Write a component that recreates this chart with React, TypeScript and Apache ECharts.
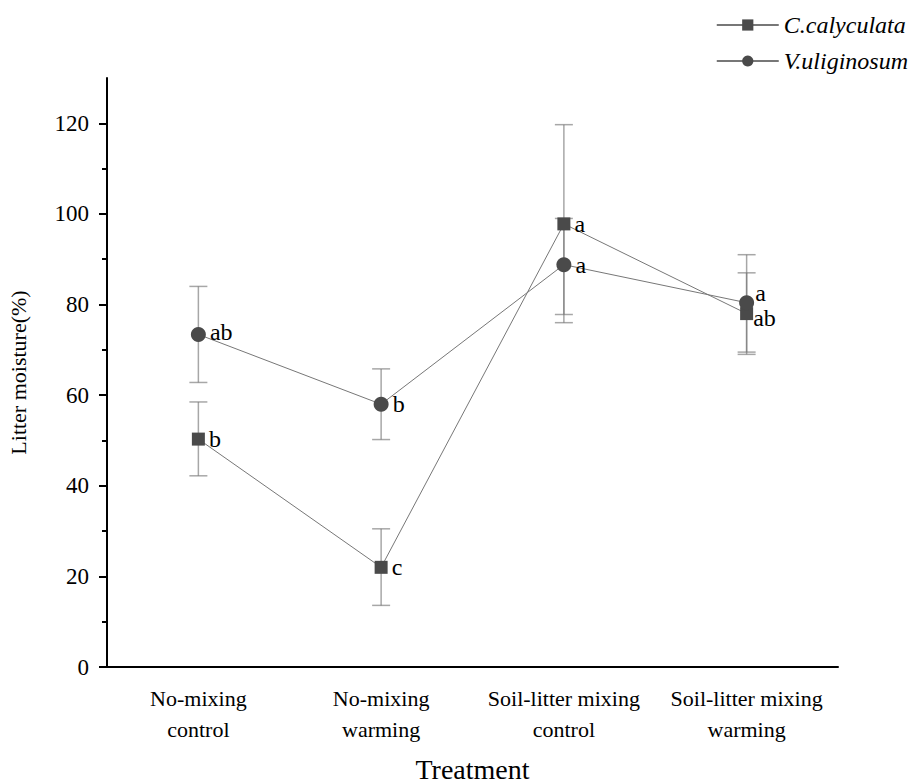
import React, { useEffect, useRef } from "react";
import * as echarts from "echarts";

const categories = ["No-mixing\ncontrol", "No-mixing\nwarming", "Soil-litter mixing\ncontrol", "Soil-litter mixing\nwarming"];
const cMean = [50.3, 22.0, 97.8, 78.0];
const cLow = [42.2, 13.6, 76.0, 69.0];
const cHigh = [58.5, 30.5, 119.7, 87.0];
const cLetters = ["b", "c", "a", "ab"];
const vMean = [73.4, 58.0, 88.8, 80.4];
const vLow = [62.8, 50.2, 77.8, 69.5];
const vHigh = [84.0, 65.8, 99.0, 91.0];
const vLetters = ["ab", "b", "a", "a"];
const majorTicks = [0, 20, 40, 60, 80, 100, 120];
const minorTicks = [10, 30, 50, 70, 90, 110];

const FONT = "'Liberation Serif', 'Times New Roman', serif";

function errorSeries(name: string, low: number[], high: number[]) {
  return {
    type: "custom",
    name: name + "-err",
    z: 1,
    silent: true,
    data: low.map((l, i) => [i, l, high[i]]),
    renderItem: (params: any, api: any) => {
      const x = api.value(0);
      const lo = api.coord([x, api.value(1)]);
      const hi = api.coord([x, api.value(2)]);
      const hw = 9;
      const style = { stroke: "rgba(120,120,120,0.65)", lineWidth: 1.5 };
      return {
        type: "group",
        children: [
          { type: "line", shape: { x1: lo[0], y1: lo[1], x2: hi[0], y2: hi[1] }, style },
          { type: "line", shape: { x1: lo[0] - hw, y1: lo[1], x2: lo[0] + hw, y2: lo[1] }, style },
          { type: "line", shape: { x1: hi[0] - hw, y1: hi[1], x2: hi[0] + hw, y2: hi[1] }, style },
        ],
      };
    },
  };
}

const cOffsets: number[][] = [[0, 0], [0, 0], [0, 0], [-4, 4]];
const vOffsets: number[][] = [[0, -2], [0, 0], [0, 0], [-3, -10]];

function lineData(mean: number[], letters: string[], offsets: number[][]) {
  return mean.map((m, i) => ({
    value: m,
    label: {
      show: true,
      position: "right",
      distance: 4,
      formatter: letters[i],
      offset: offsets[i],
      color: "#000",
      fontFamily: FONT,
      fontSize: 24,
    },
  }));
}

export default function App() {
  const ref = useRef<HTMLDivElement>(null);
  useEffect(() => {
    const chart = echarts.init(ref.current!, undefined, { renderer: "svg" });
    chart.setOption({
      animation: false,
      backgroundColor: "#fff",
      textStyle: { fontFamily: FONT },
      legend: {
        orient: "vertical",
        right: 2,
        top: 8,
        itemWidth: 62,
        itemHeight: 14,
        itemGap: 12,
        data: ["C.calyculata", "V.uliginosum"],
        textStyle: { fontFamily: FONT, fontStyle: "italic", fontSize: 24, color: "#000" },
      },
      grid: { left: 107, right: 77, top: 78, bottom: 116, containLabel: false, outerBoundsMode: "none" },
      xAxis: {
        type: "category",
        data: categories,
        boundaryGap: true,
        name: "Treatment",
        nameLocation: "middle",
        nameGap: 88,
        nameTextStyle: { fontFamily: FONT, fontSize: 28, color: "#000" },
        axisLine: { lineStyle: { color: "#000", width: 2 } },
        axisTick: { alignWithLabel: true, length: 8, lineStyle: { color: "#000", width: 2 } },
        axisLabel: { fontFamily: FONT, fontSize: 22, color: "#000", margin: 16, lineHeight: 31, interval: 0 },
      },
      yAxis: [
        {
          type: "value",
          min: 0,
          max: 130,
          interval: 10,
          position: "left",
          offset: 0,
          name: "Litter moisture(%)",
          nameLocation: "middle",
          nameGap: 78,
          nameRotate: 90,
          nameTextStyle: { fontFamily: FONT, fontSize: 22, color: "#000" },
          axisLine: { show: true, lineStyle: { color: "#000", width: 2 } },
          axisTick: { show: true, length: 8, customValues: majorTicks, lineStyle: { color: "#000", width: 2 } },
          splitLine: { show: false },
          axisLabel: { fontFamily: FONT, fontSize: 23, color: "#000", margin: 18, customValues: majorTicks },
        },
        {
          type: "value",
          min: 0,
          max: 130,
          interval: 10,
          position: "left",
          offset: 0,
          axisLine: { show: false },
          axisTick: { show: true, length: 5, customValues: minorTicks, lineStyle: { color: "#000", width: 2 } },
          splitLine: { show: false },
          axisLabel: { show: false },
        },
      ],
      series: [
        errorSeries("C", cLow, cHigh),
        errorSeries("V", vLow, vHigh),
        {
          name: "C.calyculata",
          type: "line",
          z: 3,
          symbol: "rect",
          symbolSize: 13,
          itemStyle: { color: "#4a4a4a" },
          lineStyle: { color: "#777", width: 1 },
          data: lineData(cMean, cLetters, cOffsets),
        },
        {
          name: "V.uliginosum",
          type: "line",
          z: 3,
          symbol: "circle",
          symbolSize: 15,
          itemStyle: { color: "#4a4a4a" },
          lineStyle: { color: "#777", width: 1 },
          data: lineData(vMean, vLetters, vOffsets),
        },
      ],
    });
    return () => chart.dispose();
  }, []);
  return <div ref={ref} style={{ width: 915, height: 783, position: "absolute", left: 0, top: 0 }} />;
}
